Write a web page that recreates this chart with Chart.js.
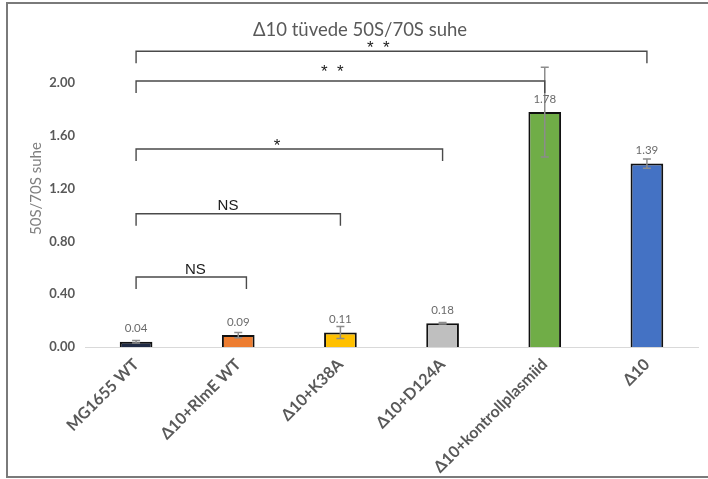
<!DOCTYPE html>
<html>
<head>
<meta charset="utf-8">
<script src="https://cdn.jsdelivr.net/npm/chart.js@4"></script>
<style>
  html, body { margin: 0; padding: 0; background: #fff; }
  #wrap { width: 708px; height: 479px; position: relative; }
</style>
</head>
<body>
<div id="wrap"><canvas id="c" width="708" height="479"></canvas></div>
<script>
// Strains and measured 50S/70S ratio
const categories = ['MG1655 WT', 'Δ10+RlmE WT', 'Δ10+K38A', 'Δ10+D124A', 'Δ10+kontrollplasmiid', 'Δ10'];
const ratios = [0.04, 0.09, 0.11, 0.18, 1.78, 1.39];
const errors = [0.01, 0.02, 0.045, 0.005, 0.34, 0.035];
const barColors = ['#1F2A44', '#ED7D31', '#FFC000', '#BFBFBF', '#70AD47', '#4472C4'];
const yTicks = [0, 0.4, 0.8, 1.2, 1.6, 2.0];

// Significance brackets: start/end category, level on the ratio axis, label and where it sits
const bracketFrom = [0, 0, 0, 0, 0];
const bracketTo = [5, 4, 3, 2, 1.08];
const bracketLevel = [2.24, 2.015, 1.5, 1.01, 0.53];
const bracketLabel = ['*  *', '*  *', '*', 'NS', 'NS'];
const bracketLabelAt = [2.37, 1.92, 1.38, 0.9, 0.58];
const bracketLabelLevel = [2.295, 2.11, 1.55, 1.075, 0.59];

const titleText = 'Δ10 tüvede 50S/70S suhe';
const yTitle = '50S/70S suhe';

const errorBars = {
  id: 'errorBars',
  afterDatasetsDraw(chart) {
    const { ctx, scales: { x, y } } = chart;
    ctx.save();
    ctx.strokeStyle = '#8C8C8C';
    ctx.lineWidth = 1.5;
    ratios.forEach((v, i) => {
      const px = x.getPixelForValue(i);
      const top = y.getPixelForValue(v + errors[i]);
      const bot = y.getPixelForValue(v - errors[i]);
      ctx.beginPath();
      ctx.moveTo(px, top); ctx.lineTo(px, bot);
      ctx.moveTo(px - 4, top); ctx.lineTo(px + 4, top);
      ctx.moveTo(px - 4, bot); ctx.lineTo(px + 4, bot);
      ctx.stroke();
    });
    // value labels above each bar
    ctx.fillStyle = '#6B6B6B';
    ctx.font = '11.5px Lato, "Open Sans", sans-serif';
    ctx.textAlign = 'center';
    ctx.textBaseline = 'middle';
    ratios.forEach((v, i) => {
      ctx.fillText(v.toFixed(2), x.getPixelForValue(i), y.getPixelForValue(v) - 13);
    });
    ctx.restore();
  }
};

const brackets = {
  id: 'brackets',
  afterDraw(chart) {
    const { ctx, scales: { x, y } } = chart;
    ctx.save();
    ctx.strokeStyle = '#4A4A4A';
    ctx.lineWidth = 1.4;
    bracketLevel.forEach((lvl, i) => {
      const x0 = x.getPixelForValue(bracketFrom[i]);
      const x1 = x.getPixelForValue(bracketTo[i]);
      const py = y.getPixelForValue(lvl);
      ctx.beginPath();
      ctx.moveTo(x0, py + 12); ctx.lineTo(x0, py);
      ctx.lineTo(x1, py); ctx.lineTo(x1, py + 12);
      ctx.stroke();
      const isStar = bracketLabel[i].includes('*');
      ctx.fillStyle = '#1A1A1A';
      ctx.font = (isStar ? '17px' : '15px') + ' "Liberation Sans", Arial, sans-serif';
      ctx.textAlign = 'center';
      ctx.textBaseline = 'alphabetic';
      const m = ctx.measureText(bracketLabel[i]);
      const cy = y.getPixelForValue(bracketLabelLevel[i]);
      const base = cy + (m.actualBoundingBoxAscent - m.actualBoundingBoxDescent) / 2;
      ctx.fillText(bracketLabel[i], x.getPixelForValue(bracketLabelAt[i]), base);
    });
    ctx.restore();
  }
};

const frame = {
  id: 'frame',
  beforeDraw(chart) {
    const { ctx } = chart;
    ctx.save();
    ctx.fillStyle = '#fff';
    ctx.fillRect(0, 0, chart.width, chart.height);
    ctx.strokeStyle = '#7A7A7A';
    ctx.lineWidth = 2;
    ctx.beginPath();
    ctx.moveTo(chart.width + 2, 3);
    ctx.lineTo(7, 3);
    ctx.lineTo(7, 477);
    ctx.lineTo(chart.width + 2, 477);
    ctx.stroke();
    // chart title
    ctx.fillStyle = '#595959';
    ctx.font = '18.5px Lato, "Open Sans", sans-serif';
    ctx.textAlign = 'center';
    ctx.textBaseline = 'middle';
    ctx.fillText(titleText, 360, 30);
    ctx.restore();
  }
};

new Chart(document.getElementById('c'), {
  type: 'bar',
  data: {
    labels: categories,
    datasets: [{
      data: ratios,
      backgroundColor: barColors,
      borderColor: '#111',
      borderWidth: 2,
      borderSkipped: 'bottom',
      categoryPercentage: 1,
      barPercentage: 0.32
    }]
  },
  options: {
    responsive: false,
    animation: false,
    devicePixelRatio: 1,
    layout: { padding: { top: 30.2, right: 10, left: 27, bottom: 0 } },
    plugins: { legend: { display: false }, tooltip: { enabled: false }, title: { display: false } },
    scales: {
      x: {
        grid: { display: false, drawTicks: false },
        border: { display: true, color: '#D9D9D9', width: 1 },
        ticks: {
          color: '#595959',
          font: { family: 'Lato, "Open Sans", sans-serif', size: 16, weight: 'bold' },
          minRotation: 45, maxRotation: 45, padding: 8
        },
        afterFit(s) { s.height = 132; }
      },
      y: {
        min: 0, max: 2.4,
        afterBuildTicks(s) { s.ticks = yTicks.map(v => ({ value: v })); },
        grid: { display: false, drawTicks: false },
        border: { display: false },
        ticks: {
          color: '#595959',
          font: { family: 'Lato, "Open Sans", sans-serif', size: 13, weight: 'bold' },
          padding: 10,
          callback: v => Number(v).toFixed(2)
        },
        title: {
          display: true, text: yTitle, color: '#7F7F7F',
          font: { family: 'Lato, "Open Sans", sans-serif', size: 15 },
          padding: { top: 0, bottom: 4 }
        },
        afterFit(s) { s.width = 58; }
      }
    }
  },
  plugins: [frame, errorBars, brackets]
});
</script>
</body>
</html>
